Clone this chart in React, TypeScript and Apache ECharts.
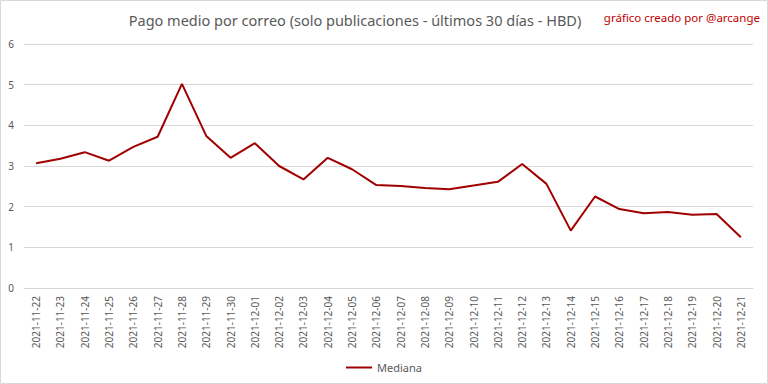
import React, { useEffect, useRef } from "react";
import * as echarts from "echarts";

const categories = [
  "2021-11-22", "2021-11-23", "2021-11-24", "2021-11-25", "2021-11-26", "2021-11-27",
  "2021-11-28", "2021-11-29", "2021-11-30", "2021-12-01", "2021-12-02", "2021-12-03",
  "2021-12-04", "2021-12-05", "2021-12-06", "2021-12-07", "2021-12-08", "2021-12-09",
  "2021-12-10", "2021-12-11", "2021-12-12", "2021-12-13", "2021-12-14", "2021-12-15",
  "2021-12-16", "2021-12-17", "2021-12-18", "2021-12-19", "2021-12-20", "2021-12-21",
];

const mediana = [
  3.07, 3.18, 3.34, 3.13, 3.47, 3.72, 5.02, 3.74, 3.2, 3.56, 3.0, 2.67,
  3.2, 2.92, 2.53, 2.51, 2.46, 2.43, 2.52, 2.61, 3.05, 2.56, 1.41, 2.25,
  1.94, 1.84, 1.87, 1.8, 1.82, 1.25,
];

const titleText = "Pago medio por correo (solo publicaciones - últimos 30 días - HBD)";
const creditText = "gráfico creado por @arcange";
const seriesName = "Mediana";

export default function App() {
  const ref = useRef<HTMLDivElement>(null);
  useEffect(() => {
    if (!ref.current) return;
    const chart = echarts.init(ref.current, null, { renderer: "svg" });
    chart.setOption({
      animation: false,
      backgroundColor: "#ffffff",
      textStyle: { fontFamily: "Noto Sans" },
      graphic: [
        {
          type: "rect",
          shape: { x: 0.5, y: 0.5, width: 767, height: 383 },
          style: { fill: "none", stroke: "#d9d9d9", lineWidth: 1 },
          silent: true,
        },
        {
          type: "text",
          x: 355,
          y: 20,
          style: {
            text: titleText,
            fill: "#595959",
            font: "14.5px 'Noto Sans'",
            textAlign: "center",
            textVerticalAlign: "middle",
          },
        },
        {
          type: "text",
          x: 760,
          y: 17,
          style: {
            text: creditText,
            fill: "#c00000",
            font: "11.5px 'Noto Sans'",
            textAlign: "right",
            textVerticalAlign: "middle",
          },
        },
      ],
      legend: {
        data: [seriesName],
        left: "center",
        top: 357,
        itemWidth: 26,
        itemHeight: 10,
        icon: "path://M0,4 L26,4 L26,6 L0,6 Z",
        textStyle: { color: "#595959", fontSize: 11, fontFamily: "Noto Sans" },
      },
      grid: { left: 24, right: 15, top: 44, bottom: 96, containLabel: false },
      xAxis: {
        type: "category",
        data: categories,
        boundaryGap: true,
        axisLine: { show: true, lineStyle: { color: "#d9d9d9" } },
        axisTick: { show: false },
        axisLabel: {
          rotate: 90,
          interval: 0,
          color: "#595959",
          fontSize: 10,
          fontFamily: "Noto Sans",
          margin: 8,
        },
      },
      yAxis: {
        type: "value",
        min: 0,
        max: 6,
        interval: 1,
        axisLine: { show: false },
        axisTick: { show: false },
        splitLine: { lineStyle: { color: "#d9d9d9", width: 1 } },
        axisLabel: { color: "#595959", fontSize: 10, fontFamily: "Noto Sans", margin: 10 },
      },
      series: [
        {
          name: seriesName,
          type: "line",
          data: mediana,
          symbol: "none",
          lineStyle: { color: "#a00000", width: 2 },
          itemStyle: { color: "#a00000" },
        },
      ],
    });
    return () => chart.dispose();
  }, []);
  return (
    <div
      ref={ref}
      style={{ position: "fixed", left: 0, top: 0, width: 768, height: 384 }}
    />
  );
}
